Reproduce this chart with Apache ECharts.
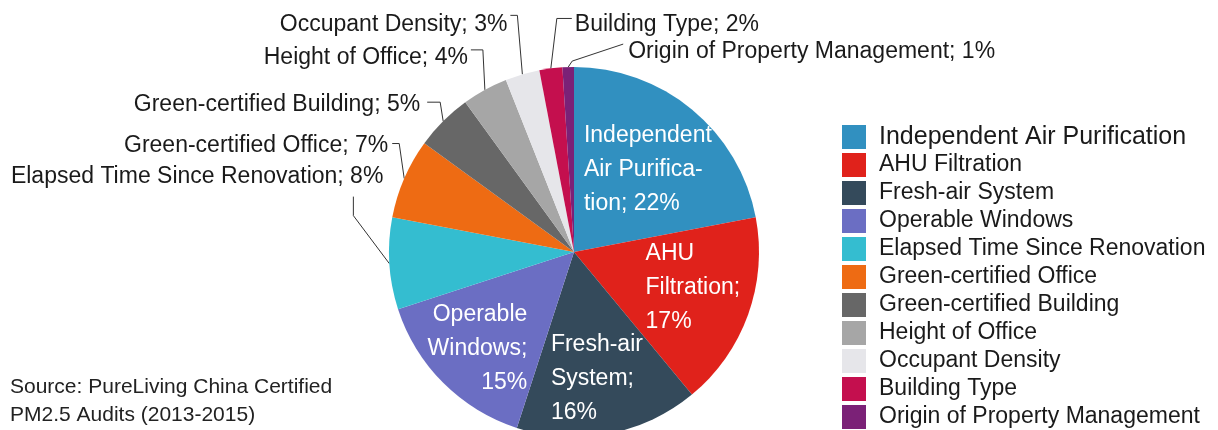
<!DOCTYPE html>
<html>
<head>
<meta charset="utf-8">
<script src="https://cdn.jsdelivr.net/npm/echarts@6/dist/echarts.min.js"></script>
<style>
html,body{margin:0;padding:0;background:#ffffff;}
#chart{width:1218px;height:430px;}
</style>
</head>
<body>
<div id="chart"></div>
<script>
// ---- data ----
const categories = [
  'Independent Air Purification',
  'AHU Filtration',
  'Fresh-air System',
  'Operable Windows',
  'Elapsed Time Since Renovation',
  'Green-certified Office',
  'Green-certified Building',
  'Height of Office',
  'Occupant Density',
  'Building Type',
  'Origin of Property Management'
];
const shares = [22, 17, 16, 15, 8, 7, 5, 4, 3, 2, 1];
// wrapped text for the labels drawn inside the slices ({c} = value)
const insideLabelLines = [
  ['Independent', 'Air Purifica-', 'tion; {c}%'],
  ['AHU', 'Filtration;', '{c}%'],
  ['Fresh-air', 'System;', '{c}%'],
  ['Operable', 'Windows;', '{c}%']
];
const sourceNote = 'Source: PureLiving China Certified\nPM2.5 Audits (2013-2015)';

// ---- styles ----
const sliceColors = ['#3190c0', '#e0221b', '#344a5b', '#6b6ec3', '#34bdd0', '#ee6b13',
                     '#676767', '#a6a6a6', '#e6e6ea', '#c40f4e', '#7b2177'];
const FONT = '"Liberation Sans", Arial, sans-serif';
const insideAlign = ['left', 'left', 'left', 'right'];
// label placement tweaks (pixels), relative to positions computed by ECharts
const labelPlacement = [
  {inside: true, dx: 13, dy: -9},
  {inside: true, dx: 29, dy: 3},
  {inside: true, dx: 5, dy: 33},
  {inside: true, dx: -29, dy: 29},
  {side: 'right', text: [-6, -87], elbow: [-36, -48], end: [-36, -67]},
  {side: 'right', text: [-16, -33], elbow: [-5, -35], end: [-12, -35]},
  {side: 'right', text: [-23, -17], elbow: [-3, -19], end: [-16, -19]},
  {side: 'right', text: [-17, -32], elbow: [-2, -40], end: [-14, -40]},
  {side: 'right', text: [-15, -50], elbow: [-5, -59], end: [-12, -59]},
  {side: 'left', text: [24, -44], elbow: [6, -50], end: [21, -50]},
  {side: 'left', text: [60, -15], elbow: [4, -6], end: [55, -23]}
];

const insideRich = {
  l: {align: 'left', color: '#ffffff', fontSize: 23, lineHeight: 34, fontFamily: FONT},
  r: {align: 'right', color: '#ffffff', fontSize: 23, lineHeight: 34, fontFamily: FONT}
};

const pieData = categories.map(function (name, i) {
  const item = {name: name, value: shares[i], itemStyle: {color: sliceColors[i]}};
  if (i < insideLabelLines.length) {
    const tag = insideAlign[i] === 'right' ? 'r' : 'l';
    item.label = {
      position: 'inside',
      formatter: insideLabelLines[i].map(function (s) { return '{' + tag + '|' + s + '}'; }).join('\n'),
      rich: insideRich
    };
    item.labelLine = {show: false};
  }
  return item;
});

const chart = echarts.init(document.getElementById('chart'), null, {renderer: 'canvas'});
chart.setOption({
  animation: false,
  backgroundColor: '#ffffff',
  title: {
    text: sourceNote,
    left: 10,
    top: 373,
    padding: 0,
    textStyle: {fontSize: 21, fontWeight: 'normal', color: '#222222', lineHeight: 28, fontFamily: FONT}
  },
  legend: {
    orient: 'vertical',
    left: 842,
    top: 123,
    height: 330,
    padding: 0,
    itemWidth: 24,
    itemHeight: 24,
    itemGap: 0,
    icon: 'rect',
    selectedMode: false,
    data: categories.map(function (n, i) {
      return i === 0 ? {name: n, textStyle: {fontSize: 25}} : {name: n};
    }),
    textStyle: {fontSize: 23, color: '#1a1a1a', fontFamily: FONT, lineHeight: 23, padding: [0, 0, 5, 8]}
  },
  series: [{
    type: 'pie',
    center: [574, 252],
    radius: 185,
    startAngle: 90,
    clockwise: true,
    avoidLabelOverlap: false,
    itemStyle: {borderWidth: 0},
    label: {
      show: true,
      position: 'outside',
      formatter: '{b}; {c}%',
      fontSize: 23,
      color: '#1a1a1a',
      fontFamily: FONT,
      overflow: 'none'
    },
    labelLine: {show: true, length: 10, length2: 10, lineStyle: {color: '#333333', width: 1}},
    emphasis: {disabled: true},
    labelLayout: function (p) {
      const cfg = labelPlacement[p.dataIndex];
      if (!cfg) return {};
      if (cfg.inside) {
        const r = p.labelRect;
        return {x: r.x + r.width / 2 + cfg.dx, y: r.y + r.height / 2 + cfg.dy, align: 'center', verticalAlign: 'middle'};
      }
      const e = p.labelLinePoints ? p.labelLinePoints[0] : [p.rect.x, p.rect.y];
      return {
        x: e[0] + cfg.text[0],
        y: e[1] + cfg.text[1],
        align: cfg.side,
        verticalAlign: 'middle',
        labelLinePoints: [
          [e[0], e[1]],
          [e[0] + cfg.elbow[0], e[1] + cfg.elbow[1]],
          [e[0] + cfg.end[0], e[1] + cfg.end[1]]
        ]
      };
    },
    data: pieData
  }]
});
</script>
</body>
</html>
